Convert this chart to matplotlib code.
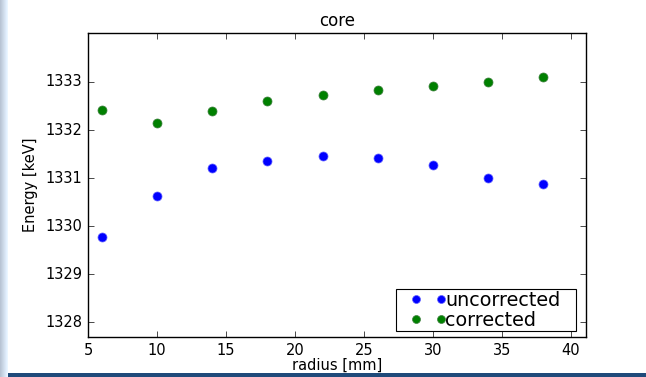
import numpy as np
import matplotlib
matplotlib.use('Agg')
import matplotlib.pyplot as plt
from matplotlib.patches import Rectangle
from matplotlib.legend_handler import HandlerLine2D

plt.style.use('classic')

radius = [6, 10, 14, 18, 22, 26, 30, 34, 38]
uncorrected = [1329.77, 1330.62, 1331.21, 1331.35, 1331.46, 1331.41, 1331.27, 1331.01, 1330.87]
corrected = [1332.42, 1332.14, 1332.40, 1332.61, 1332.73, 1332.83, 1332.92, 1332.99, 1333.10]

fig = plt.figure(figsize=(6.46, 3.77), dpi=100, facecolor='white')
ax = fig.add_axes([88/646, 1 - 337/377, (586 - 88)/646, (337 - 33)/377])

l1, = ax.plot(radius, uncorrected, 'bo', ms=6.5, mec='#6060ff', mew=0.5, label='uncorrected')
l2, = ax.plot(radius, corrected, 'o', color='#008000', ms=6.5, mec='#408040', mew=0.5, label='corrected')

ax.set_xlim(5, 41.1)
ax.set_ylim(1327.69, 1334.02)
ax.set_xticks([5, 10, 15, 20, 25, 30, 35, 40])
ax.set_yticks([1328, 1329, 1330, 1331, 1332, 1333])
ax.get_yaxis().get_major_formatter().set_useOffset(False)
ax.tick_params(labelsize=10.5)
ax.set_xlabel('radius [mm]', fontsize=10.5, labelpad=0)
ax.set_ylabel('Energy [keV]', fontsize=10.5)
ax.set_title('core', fontsize=12)

# legend box spans a fixed width; entries sit at its left side
hmap = {l1: HandlerLine2D(marker_pad=0.97), l2: HandlerLine2D(marker_pad=0.97)}
leg = ax.legend(loc='lower left', bbox_to_anchor=(308/498, 6/304, 180/498, 0.3), mode='expand',
                borderaxespad=0, numpoints=2, fontsize=13.8, borderpad=0.07, labelspacing=0.05,
                handlelength=3.25, handletextpad=-0.74, markerscale=0.88, handler_map=hmap)
leg.get_frame().set_linewidth(0.8)

# screenshot border: left fading stripe and dark bottom band
for i in range(8):
    shade = 0.78 + 0.028 * i
    fig.patches.append(Rectangle((i / 646, 0), 1 / 646, 1, transform=fig.transFigure,
                                 facecolor=(shade - 0.06, shade - 0.01, min(shade + 0.05, 1.0)),
                                 edgecolor='none', zorder=10))
fig.patches.append(Rectangle((8 / 646, 0), 1, 4 / 377, transform=fig.transFigure,
                             facecolor='#1f4a7a', edgecolor='none', zorder=11))

fig.savefig('out.png', dpi=100, facecolor='white')
